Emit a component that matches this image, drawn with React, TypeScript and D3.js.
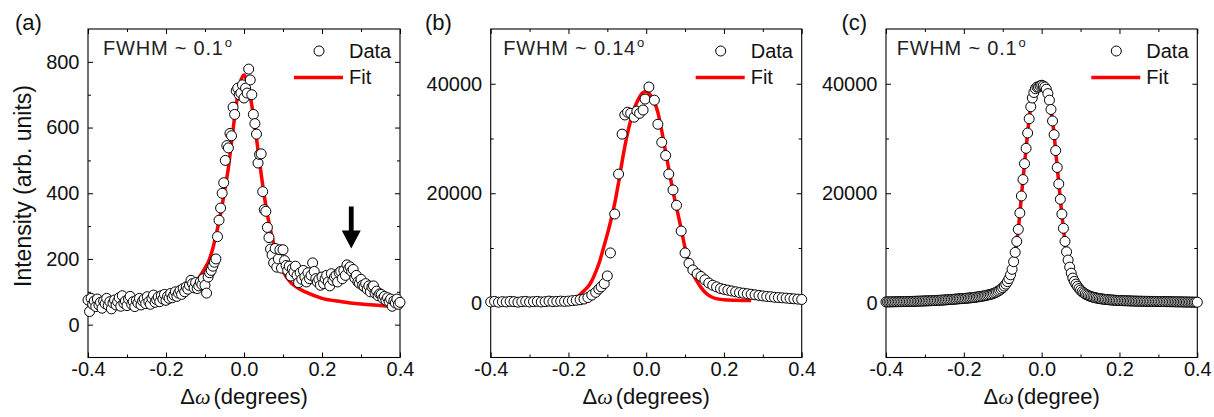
import React, { useEffect, useRef } from "react";
import * as d3 from "d3";

const SANS = "'Liberation Sans', Arial, Helvetica, sans-serif";

// (a) and (c) are scanned from -0.4 to 0.4 deg in 0.004 deg steps
const scanStart = -0.4;
const scanStep = 0.004;

const xMajor = [-0.4, -0.2, 0, 0.2, 0.4];
const xMinor = [-0.3, -0.1, 0.1, 0.3];
const yMajorA = [0, 200, 400, 600, 800];
const yMinorA = [100, 300, 500, 700];
const yMajorBC = [0, 20000, 40000];
const yMinorBC = [10000, 30000];

// (a) intensity, arb. units
const dataA = [
  75, 40, 80, 62, 72, 55, 78, 60, 68, 50,
  72, 64, 80, 58, 70, 48, 66, 75, 60, 70,
  82, 56, 88, 65, 72, 58, 78, 86, 62, 70,
  55, 74, 66, 80, 60, 72, 78, 64, 85, 70,
  62, 80, 90, 68, 76, 84, 70, 88, 78, 92,
  74, 86, 80, 95, 82, 90, 100, 86, 96, 104,
  92, 110, 100, 115, 108, 120,
  135, 125, 112, 128, 110, 118, 130, 122, 140, 120, 96, 145, 158, 165, 178, 190, 200,
  268, 318, 355, 400, 432, 500, 545, 538, 582, 575, 662, 640, 712, 720, 700, 705, 730, 690,
  720, 705, 778, 745, 700, 640, 612, 580, 492, 518, 520, 405, 350, 345, 296, 265, 230, 212,
  188, 232, 175, 200, 228, 172,
  228, 195, 180, 165, 178, 148, 170, 160, 178, 150,
  128, 158, 138, 165, 145, 130, 158, 140, 150, 188,
  162, 140, 130, 138, 120, 145, 125, 140, 150, 130,
  118, 155, 135, 145, 150, 130, 158, 162, 140, 165,
  150, 182, 170, 176, 162, 168, 142, 150, 130, 126,
  138, 120, 116, 125, 108, 118, 100, 115, 118, 96,
  102, 88, 94, 92, 80, 86, 74, 82, 70, 78,
  56, 72, 66, 78, 62, 68,
];

const fitA = [
  [-0.4, 52], [-0.35, 55], [-0.3, 58], [-0.25, 63], [-0.2, 72], [-0.16, 88],
  [-0.14, 105], [-0.12, 135], [-0.1, 172], [-0.09, 195], [-0.08, 232], [-0.07, 282],
  [-0.06, 338], [-0.05, 405], [-0.04, 478], [-0.03, 575], [-0.02, 668], [-0.01, 735],
  [0, 760], [0.01, 728], [0.02, 668], [0.03, 585], [0.04, 495], [0.05, 408],
  [0.06, 335], [0.07, 278], [0.08, 228], [0.09, 188], [0.1, 162], [0.12, 128],
  [0.14, 110], [0.16, 98], [0.2, 80], [0.25, 70], [0.3, 63], [0.35, 58], [0.37, 56], [0.4, 54],
];

// (b) measured points, [deg, intensity]
const dataB = [
  [-0.4, 150], [-0.39, 250], [-0.38, 100], [-0.37, 200], [-0.36, 150], [-0.35, 250],
  [-0.34, 200], [-0.33, 100], [-0.32, 200], [-0.31, 250], [-0.3, 150], [-0.29, 200],
  [-0.28, 250], [-0.27, 150], [-0.26, 200], [-0.25, 300], [-0.24, 200], [-0.23, 250],
  [-0.22, 300], [-0.21, 250], [-0.2, 300], [-0.19, 380], [-0.18, 450], [-0.17, 550],
  [-0.16, 680], [-0.15, 950], [-0.14, 1400], [-0.13, 1900], [-0.122, 2500], [-0.116, 2900],
  [-0.108, 3500], [-0.1, 4900], [-0.092, 9100], [-0.081, 16200], [-0.071, 23500],
  [-0.062, 30800], [-0.055, 34300], [-0.048, 34800], [-0.04, 34600], [-0.031, 33900],
  [-0.024, 35000], [-0.017, 34600], [-0.008, 35200], [-0.003, 37200], [0.007, 39400],
  [0.021, 37000], [0.03, 32600], [0.04, 29300], [0.05, 26900], [0.058, 23500],
  [0.069, 20600], [0.078, 17800], [0.09, 13100], [0.1, 9100], [0.11, 7200], [0.12, 6000],
  [0.131, 5300], [0.141, 4800], [0.151, 4200], [0.161, 3600], [0.171, 3200], [0.181, 2900],
  [0.191, 2600], [0.2, 2450], [0.21, 2300], [0.22, 2150], [0.23, 2000], [0.24, 1850],
  [0.25, 1750], [0.26, 1650], [0.27, 1550], [0.28, 1450], [0.29, 1350], [0.3, 1250],
  [0.31, 1150], [0.32, 1100], [0.33, 1000], [0.34, 950], [0.35, 900], [0.36, 850],
  [0.37, 780], [0.38, 720], [0.39, 660], [0.4, 600],
];

const fitB = [
  [-0.4, 300], [-0.3, 300], [-0.22, 350], [-0.2, 450], [-0.18, 900], [-0.17, 1500],
  [-0.16, 2200], [-0.15, 2900], [-0.14, 4000], [-0.13, 5600], [-0.12, 7500], [-0.11, 10000],
  [-0.1, 12500], [-0.09, 15300], [-0.08, 18500], [-0.07, 22400], [-0.06, 26600], [-0.05, 30300],
  [-0.04, 33300], [-0.03, 35600], [-0.02, 37200], [-0.01, 38300], [0, 38600], [0.01, 38000],
  [0.02, 36800], [0.03, 34800], [0.04, 31400], [0.05, 27500], [0.06, 23700], [0.07, 20000],
  [0.08, 16800], [0.09, 13500], [0.1, 10000], [0.11, 7200], [0.12, 5300], [0.13, 4000],
  [0.14, 2900], [0.15, 2000], [0.16, 1400], [0.17, 1000], [0.18, 750], [0.2, 550],
  [0.23, 450], [0.27, 400],
];

// (c) intensity
const dataC = [
  150, 150, 160, 160, 170, 170, 180, 180, 190, 200,
  200, 210, 220, 220, 230, 240, 240, 250, 260, 270,
  280, 290, 300, 310, 320, 330, 340, 350, 360, 380,
  390, 400, 420, 430, 450, 460, 480, 500, 520, 540,
  560, 580, 600, 620, 650, 670, 700, 730, 740, 760,
  780, 800, 830, 860, 890, 920, 950, 990, 1030, 1070,
  1110, 1160, 1210, 1260, 1320, 1380, 1450, 1520,
  1600, 1700, 1820, 1960, 2120, 2300, 2500, 2750, 3050, 3400,
  3850, 4400, 5100, 6100, 7500, 9200, 11200, 13400, 16400, 19500,
  22500, 25400, 28200, 31000, 33600, 35800, 37400, 38400, 39100, 39400,
  39400, 39600, 39700,
  39600, 39400, 39000, 38200, 37000, 35300, 33200, 30700, 27800, 24700,
  21700, 18900, 16200, 13600, 11200, 9300, 7800, 6500, 5400, 4500,
  3900, 3400, 3000, 2600, 2300, 2000, 1800, 1600, 1450, 1320,
  1200, 1100, 1020, 950, 880, 820, 770, 720, 680, 640,
  610, 580, 550, 520, 500, 480, 460, 440, 420, 400,
  390, 380, 370, 360, 350, 340, 330, 320, 310, 300,
  295, 290, 285, 280, 275, 270, 265, 260, 255, 250,
  245, 240, 235, 230, 225, 220, 215, 210, 205, 200,
  195, 190, 185, 180, 175, 170, 165, 160, 155, 150,
  145, 140, 135, 130, 125, 120, 115, 110, 105, 100,
];

const fitC = [
  [-0.4, 150], [-0.3, 330], [-0.2, 780], [-0.16, 1110], [-0.14, 1380], [-0.12, 1820],
  [-0.1, 2750], [-0.09, 3600], [-0.08, 5100], [-0.07, 8300], [-0.06, 13400], [-0.05, 21000],
  [-0.04, 28200], [-0.03, 34800], [-0.02, 38500], [-0.01, 40000], [0, 40400], [0.01, 39600],
  [0.02, 37100], [0.03, 32000], [0.04, 24800], [0.05, 17500], [0.06, 11200], [0.07, 7000],
  [0.08, 4400], [0.09, 3100], [0.1, 2300], [0.12, 1350], [0.14, 900], [0.17, 560],
  [0.2, 400], [0.3, 210], [0.4, 100],
];

const onGrid = vals => vals.map((v, i) => [scanStart + i * scanStep, v]);

const TOP = 29;
const BOTTOM = 357.5;

const panels = [
  {
    tag: "(a)", tagX: 15, left: 88, right: 400, fwhmDx: 15, fwhm: "FWHM ~ 0.1",
    yDomain: [-100, 900], yMajor: yMajorA, yMinor: yMinorA,
    points: onGrid(dataA), fit: fitA, title: "(degrees)",
    yTitle: "Intensity (arb. units)", arrow: { x: 0.275, from: 360, to: 232 },
  },
  {
    tag: "(b)", tagX: 425, left: 490.7, right: 801.7, fwhmDx: 12.6, fwhm: "FWHM ~ 0.14",
    yDomain: [-10000, 50000], yMajor: yMajorBC, yMinor: yMinorBC,
    points: dataB, fit: fitB, title: "(degrees)",
  },
  {
    tag: "(c)", tagX: 841.5, left: 886, right: 1197.3, fwhmDx: 10.7, fwhm: "FWHM ~ 0.1",
    yDomain: [-10000, 50000], yMajor: yMajorBC, yMinor: yMinorBC,
    points: onGrid(dataC), fit: fitC, title: "(degree)",
  },
];

function Panel({ cfg }) {
  const axesRef = useRef(null);
  const x = d3.scaleLinear().domain([-0.4, 0.4]).range([cfg.left, cfg.right]);
  const y = d3.scaleLinear().domain(cfg.yDomain).range([BOTTOM, TOP]);

  useEffect(() => {
    const g = d3.select(axesRef.current);
    g.selectAll("*").remove();
    const put = (axis, tx, ty) => {
      const s = g.append("g").attr("transform", `translate(${tx},${ty})`).call(axis);
      s.select(".domain").remove();
      s.selectAll("line").attr("stroke", "#000").attr("stroke-width", 1);
      s.selectAll("text")
        .attr("font-family", SANS)
        .attr("font-size", 20)
        .attr("fill", "#111");
      s.attr("font-family", null).attr("font-size", null);
    };
    const none = () => "";
    // bottom / top
    put(d3.axisBottom(x).tickValues(xMajor).tickSize(-5).tickPadding(4)
      .tickFormat(d => d.toFixed(1)), 0, BOTTOM);
    put(d3.axisBottom(x).tickValues(xMinor).tickSize(-3).tickFormat(none), 0, BOTTOM);
    put(d3.axisTop(x).tickValues(xMajor).tickSize(-5).tickFormat(none), 0, TOP);
    put(d3.axisTop(x).tickValues(xMinor).tickSize(-3).tickFormat(none), 0, TOP);
    // left / right
    put(d3.axisLeft(y).tickValues(cfg.yMajor).tickSize(-5).tickPadding(8.5)
      .tickFormat(d => String(d)), cfg.left, 0);
    put(d3.axisLeft(y).tickValues(cfg.yMinor).tickSize(-3).tickFormat(none), cfg.left, 0);
    put(d3.axisRight(y).tickValues(cfg.yMajor).tickSize(-5).tickFormat(none), cfg.right, 0);
    put(d3.axisRight(y).tickValues(cfg.yMinor).tickSize(-3).tickFormat(none), cfg.right, 0);
  }, []);

  const line = d3.line().x(d => x(d[0])).y(d => y(d[1])).curve(d3.curveMonotoneX);
  const cx = (cfg.left + cfg.right) / 2;

  let arrowPath = null;
  if (cfg.arrow) {
    const ax = x(cfg.arrow.x);
    const y0 = y(cfg.arrow.from);
    const y1 = y(cfg.arrow.to);
    const sw = 2.4, hw = 9.5, hh = 18;
    arrowPath = `M${ax - sw},${y0}L${ax + sw},${y0}L${ax + sw},${y1 - hh}L${ax + hw},${y1 - hh}` +
      `L${ax},${y1}L${ax - hw},${y1 - hh}L${ax - sw},${y1 - hh}Z`;
  }

  return (
    <g>
      <rect x={cfg.left} y={TOP} width={cfg.right - cfg.left} height={BOTTOM - TOP}
        fill="none" stroke="#000" strokeWidth={1.1} />
      <g ref={axesRef} />
      <path d={line(cfg.fit)} fill="none" stroke="#ff0000" strokeWidth={3.5} />
      {cfg.points.map((d, i) => (
        <circle key={i} cx={x(d[0])} cy={y(d[1])} r={5} fill="#fff" stroke="#000" strokeWidth={1} />
      ))}
      {arrowPath && <path d={arrowPath} fill="#000" />}

      <text x={cfg.tagX} y={30} fontFamily={SANS} fontSize={22} fill="#111">{cfg.tag}</text>
      <text x={cfg.left + cfg.fwhmDx} y={55} fontFamily={SANS} fontSize={20}
        letterSpacing={0.8} fill="#222">
        {cfg.fwhm}
        <tspan fontSize={13} dy={-8} dx={1}>o</tspan>
      </text>

      {/* legend */}
      <circle cx={cfg.right - 81} cy={51} r={5} fill="#fff" stroke="#000" strokeWidth={1} />
      <text x={cfg.right - 51} y={57.5} fontFamily={SANS} fontSize={20} fill="#111">Data</text>
      <line x1={cfg.right - 106} x2={cfg.right - 57} y1={77.5} y2={77.5} stroke="#ff0000" strokeWidth={3.5} />
      <text x={cfg.right - 51} y={83.5} fontFamily={SANS} fontSize={20} fill="#111">Fit</text>

      <text x={cx} y={404} textAnchor="middle" fontFamily={SANS} fontSize={22} fill="#111">
        <tspan>Δ</tspan>
        <tspan fontFamily="'Liberation Serif', 'Times New Roman', serif" fontStyle="italic">ω</tspan>
        <tspan dx={3}>{cfg.title}</tspan>
      </text>
      {cfg.yTitle && (
        <text transform={`translate(31,186) rotate(-90)`} textAnchor="middle"
          fontFamily={SANS} fontSize={23} fill="#111">{cfg.yTitle}</text>
      )}
    </g>
  );
}

export default function App() {
  return (
    <div style={{ position: "absolute", left: 0, top: 0 }}>
      <svg width={1214} height={417} style={{ display: "block", background: "#fff" }}>
        {panels.map(p => <Panel key={p.tag} cfg={p} />)}
      </svg>
    </div>
  );
}
